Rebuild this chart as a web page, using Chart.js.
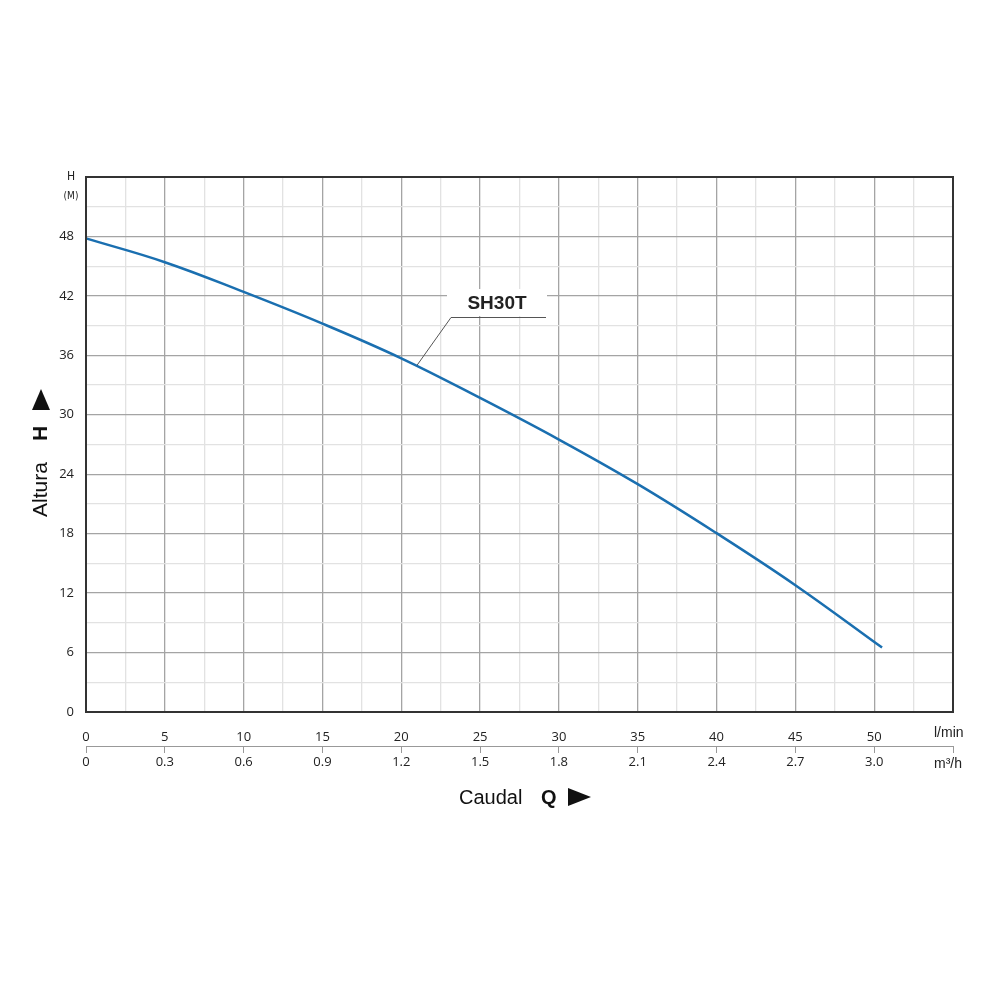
<!DOCTYPE html>
<html>
<head>
<meta charset="utf-8">
<script src="https://cdn.jsdelivr.net/npm/chart.js@4.4.0/dist/chart.umd.min.js"></script>
<style>
  html, body { margin: 0; padding: 0; background: #fff; }
  #wrap { width: 1000px; height: 1000px; }
</style>
</head>
<body>
<div id="wrap"><canvas id="chart" width="1000" height="1000"></canvas></div>
<script>
// Curva SH30T: caudal (l/min) x altura (m)
const flowLmin = [0, 5, 10, 15, 20, 25, 30, 35, 40, 45, 50.5];
const headM    = [47.8, 45.4, 42.4, 39.2, 35.7, 31.7, 27.5, 23.0, 18.05, 12.8, 6.5];
const seriesName = 'SH30T';
const xTickLabels  = ['0','5','10','15','20','25','30','35','40','45','50'];
const x2TickLabels = ['0','0.3','0.6','0.9','1.2','1.5','1.8','2.1','2.4','2.7','3.0'];
const yTickLabels  = ['0','6','12','18','24','30','36','42','48'];

const LINE = '#1a6fb0';
const MAJOR = '#a4a4a4';
const MINOR = '#e2e2e2';
const TICK_FONT = { family: "'Open Sans', sans-serif", size: 13 };

const points = flowLmin.map((q, i) => ({ x: q, y: headM[i] }));

function gridColor(ctx, step) {
  const v = ctx.tick ? ctx.tick.value : 0;
  return Math.abs(v / step - Math.round(v / step)) < 1e-6 ? MAJOR : MINOR;
}

// textos fixos: titulos, unidades, rótulo da curva e moldura
const decor = {
  id: 'decor',
  afterDraw(chart) {
    const { ctx, chartArea: a } = chart;
    const xs = chart.scales.x, ys = chart.scales.y;
    ctx.save();

    // moldura
    ctx.strokeStyle = '#333';
    ctx.lineWidth = 2;
    ctx.strokeRect(a.left, a.top, a.right - a.left, a.bottom - a.top);

    // H (M)
    ctx.fillStyle = '#222';
    ctx.font = "12px 'DejaVu Sans Condensed', 'Open Sans', sans-serif";
    ctx.textAlign = 'center';
    ctx.textBaseline = 'middle';
    ctx.fillText('H', 71, 177);
    ctx.font = "10px 'DejaVu Sans Condensed', 'Open Sans', sans-serif";
    ctx.fillText('(M)', 71, 196);

    // unidades
    ctx.font = "14px 'Liberation Sans', Arial, sans-serif";
    ctx.textAlign = 'left';
    ctx.fillText('l/min', 934, 733);
    ctx.fillText('m³/h', 934, 764);

    // titulo eixo X
    ctx.fillStyle = '#111';
    ctx.textBaseline = 'middle';
    ctx.font = "20px 'Liberation Sans', Arial, sans-serif";
    ctx.fillText('Caudal', 459, 798);
    ctx.font = "bold 20px 'Liberation Sans', Arial, sans-serif";
    ctx.fillText('Q', 541, 798);
    ctx.beginPath();
    ctx.moveTo(568, 788); ctx.lineTo(591, 797); ctx.lineTo(568, 806);
    ctx.closePath(); ctx.fill();

    // titulo eixo Y
    ctx.save();
    ctx.translate(41, 517);
    ctx.rotate(-Math.PI / 2);
    ctx.font = "21px 'Liberation Sans', Arial, sans-serif";
    ctx.fillText('Altura', 0, 0);
    ctx.font = "bold 21px 'Liberation Sans', Arial, sans-serif";
    ctx.fillText('H', 76, 0);
    ctx.beginPath();
    ctx.moveTo(107, -9); ctx.lineTo(128, 0); ctx.lineTo(107, 9);
    ctx.closePath(); ctx.fill();
    ctx.restore();

    // rótulo da curva
    ctx.fillStyle = '#fff';
    ctx.fillRect(447, 289, 100, 27);
    ctx.fillStyle = '#222';
    ctx.font = "bold 19px 'Liberation Sans', Arial, sans-serif";
    ctx.textAlign = 'center';
    ctx.fillText(seriesName, 497, 304);
    const px = xs.getPixelForValue(21), py = ys.getPixelForValue(35);
    ctx.strokeStyle = '#555';
    ctx.lineWidth = 1;
    ctx.beginPath();
    ctx.moveTo(546, 317.5); ctx.lineTo(451, 317.5); ctx.lineTo(px, py);
    ctx.stroke();

    ctx.restore();
  }
};

new Chart(document.getElementById('chart'), {
  type: 'line',
  data: {
    datasets: [{
      label: seriesName,
      data: points,
      borderColor: LINE,
      borderWidth: 2.5,
      pointRadius: 0,
      tension: 0.4,
      fill: false,
      clip: false
    }]
  },
  options: {
    responsive: false,
    animation: false,
    devicePixelRatio: 1,
    layout: { padding: { left: 0, right: 47, top: 177, bottom: 224 } },
    plugins: { legend: { display: false }, tooltip: { enabled: false } },
    scales: {
      x: {
        type: 'linear', position: 'bottom', min: 0, max: 55,
        afterFit: s => { s.height = 34; },
        ticks: {
          stepSize: 2.5, autoSkip: false, maxRotation: 0,
          color: '#222', font: TICK_FONT, padding: 17,
          callback: v => {
            const i = Math.round(v / 5);
            return Math.abs(v - i * 5) < 1e-6 && i < xTickLabels.length ? xTickLabels[i] : '';
          }
        },
        grid: { color: c => gridColor(c, 5), drawTicks: false, lineWidth: 1.3 },
        border: { display: false }
      },
      x2: {
        type: 'linear', position: 'bottom', min: 0, max: 55,
        afterFit: s => { s.height = 30; },
        ticks: {
          stepSize: 5, autoSkip: false, maxRotation: 0,
          color: '#222', font: TICK_FONT, padding: 1,
          callback: v => {
            const i = Math.round(v / 5);
            return i < x2TickLabels.length ? x2TickLabels[i] : '';
          }
        },
        grid: { drawOnChartArea: false, drawTicks: true, tickLength: 7, color: '#999' },
        border: { display: true, color: '#999', width: 1 }
      },
      y: {
        type: 'linear', min: 0, max: 54,
        afterFit: s => { s.width = 86; },
        ticks: {
          stepSize: 3, autoSkip: false,
          color: '#222', font: TICK_FONT, padding: 12,
          callback: v => {
            const i = Math.round(v / 6);
            return Math.abs(v - i * 6) < 1e-6 && i < yTickLabels.length ? yTickLabels[i] : '';
          }
        },
        grid: { color: c => gridColor(c, 6), drawTicks: false, lineWidth: 1.3 },
        border: { display: false }
      }
    }
  },
  plugins: [decor]
});
</script>
</body>
</html>
